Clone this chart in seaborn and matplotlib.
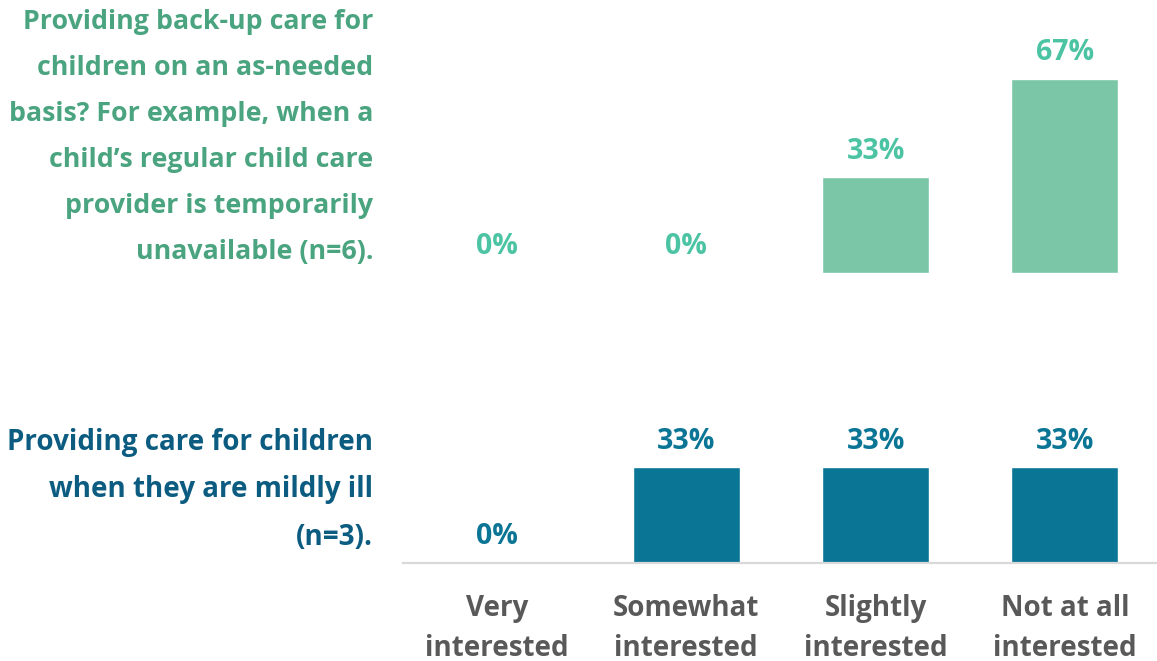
import numpy as np
import pandas as pd
import matplotlib
matplotlib.use("Agg")
import matplotlib.pyplot as plt
import seaborn as sns

categories = ["Very\ninterested", "Somewhat\ninterested", "Slightly\ninterested", "Not at all\ninterested"]
backup_vals = [0, 0, 33, 67]
ill_vals = [0, 33, 33, 33]
backup_question = ("Providing back-up care for\nchildren on an as-needed\nbasis? For example, when a\n"
                   "child\u2019s regular child care\nprovider is temporarily\nunavailable (n=6).")
ill_question = "Providing care for children\nwhen they are mildly ill\n(n=3)."

sns.set_style("white")
plt.rcParams['font.family'] = ['Open Sans', 'DejaVu Sans']
plt.rcParams['font.weight'] = 'bold'

W, H = 1157, 661
fig = plt.figure(figsize=(W / 100, H / 100), dpi=100)

def px_axes(left, base, right, height):
    return fig.add_axes([left / W, (H - base) / H, (right - left) / W, height / H])

ax_top = px_axes(403, 273, 1157, 200)
ax_bot = px_axes(403, 563, 1157, 200)

rows = [
    (ax_top, backup_vals, "#7AC6A7", "#4CC4A4", "#4AA47F", backup_question, 137, 19.3, 2.0),
    (ax_bot, ill_vals, "#0B7595", "#0B7595", "#0B5C80", ill_question, 490, 20, 1.83),
]

for ax, vals, bar_c, lab_c, q_c, q_text, q_y, q_size, q_ls in rows:
    df = pd.DataFrame({"cat": categories, "val": vals})
    sns.barplot(data=df, x="cat", y="val", color=bar_c, width=0.565,
                saturation=1, ax=ax)
    ax.set_xlim(-0.496, 3.486)
    ax.set_ylim(0, 69)
    for i, v in enumerate(vals):
        ax.annotate(f"{v}%", (i, v), xytext=(0, 26 * 0.72), textcoords="offset points",
                    ha="center", va="center", fontsize=20.5, fontweight="bold",
                    color=lab_c, annotation_clip=False)
    ax.set_ylabel("")
    ax.set_xlabel("")
    ax.set_yticks([])
    sns.despine(ax=ax, left=True)
    fig.text(373 / W, (H - q_y) / H, q_text, ha="right", va="center",
             fontsize=q_size, fontweight="bold", color=q_c, linespacing=q_ls)

ax_top.spines["bottom"].set_visible(False)
ax_top.set_xticks([])
ax_bot.spines["bottom"].set_color("#D9D9D9")
ax_bot.spines["bottom"].set_linewidth(1.6)
ax_bot.tick_params(axis="x", length=0, pad=22, labelsize=20, colors="#595959")
for lab in ax_bot.get_xticklabels():
    lab.set_fontweight("bold")
    lab.set_linespacing(1.5)

fig.savefig("out.png", dpi=100)
